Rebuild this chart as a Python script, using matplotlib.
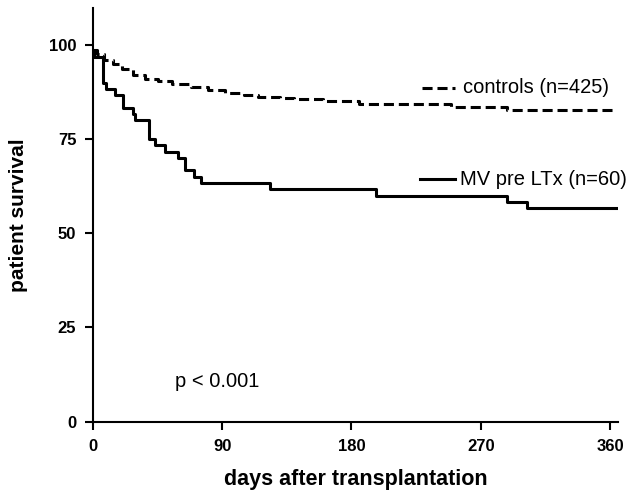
import matplotlib
matplotlib.use("Agg")
import matplotlib.pyplot as plt

plt.rcParams["font.family"] = ["Liberation Sans", "DejaVu Sans"]

# Kaplan-Meier steps (day, survival %)
mv_days = [0, 1, 3, 7, 9, 15, 21, 28, 29, 39, 43, 50, 59, 64, 70, 75, 123, 197, 288, 302, 365]
mv_surv = [98.3, 96.7, 96.7, 90.0, 88.3, 86.7, 83.3, 81.7, 80.0, 75.0, 73.3, 71.7, 70.0,
           66.7, 65.0, 63.3, 61.7, 60.0, 58.3, 56.7, 56.7]

ctrl_days = [0, 3, 8, 14, 20, 28, 36, 45, 55, 68, 80, 92, 105, 115, 130, 140, 160, 185,
             210, 249, 288, 363]
ctrl_surv = [98.7, 97.5, 96.0, 94.8, 93.5, 92.0, 91.0, 90.4, 89.6, 88.7, 88.0, 87.3, 86.7,
             86.2, 85.8, 85.5, 85.0, 84.4, 84.2, 83.6, 82.8, 82.8]

x_ticks = [0, 90, 180, 270, 360]
y_ticks = [0, 25, 50, 75, 100]
labels = ["controls (n=425)", "MV pre LTx (n=60)"]

fig = plt.figure(figsize=(6.3, 4.91), dpi=100)
ax = fig.add_axes([93 / 630, 1 - 421.7 / 491, (618 - 93) / 630, (421.7 - 8.3) / 491])

dash = (0, (3.3, 1.6))
ax.step(ctrl_days, ctrl_surv, where="post", color="black", lw=2.2, linestyle=dash)
ax.step(mv_days, mv_surv, where="post", color="black", lw=2.2)

ax.set_xlim(0, 365.6)
ax.set_ylim(0, 109.7)
ax.set_xticks(x_ticks)
ax.set_yticks(y_ticks)
for s in ("top", "right"):
    ax.spines[s].set_visible(False)
for s in ("left", "bottom"):
    ax.spines[s].set_linewidth(1.5)
ax.tick_params(direction="out", length=5.5, width=1.5, labelsize=12)
ax.tick_params(axis="y", pad=6.5)
ax.tick_params(axis="x", pad=7)
for t in ax.get_xticklabels() + ax.get_yticklabels():
    t.set_fontweight("bold")

ax.set_xlabel("days after transplantation", fontsize=15.5, fontweight="bold", labelpad=11)
ax.set_ylabel("patient survival", fontsize=15, fontweight="bold", labelpad=15)

# manual legend
ax.plot([229, 252], [88.6, 88.6], color="black", lw=2.2, linestyle=dash, clip_on=False)
ax.text(257.7, 88.6, labels[0], fontsize=14.5, va="center", ha="left")
ax.plot([227.7, 252], [64.4, 64.4], color="black", lw=2.2, clip_on=False)
ax.text(255.6, 64.4, labels[1], fontsize=14.5, va="center", ha="left")

ax.text(57, 10.6, "p < 0.001", fontsize=14.5, va="center", ha="left")

fig.savefig("out.png", dpi=100)
